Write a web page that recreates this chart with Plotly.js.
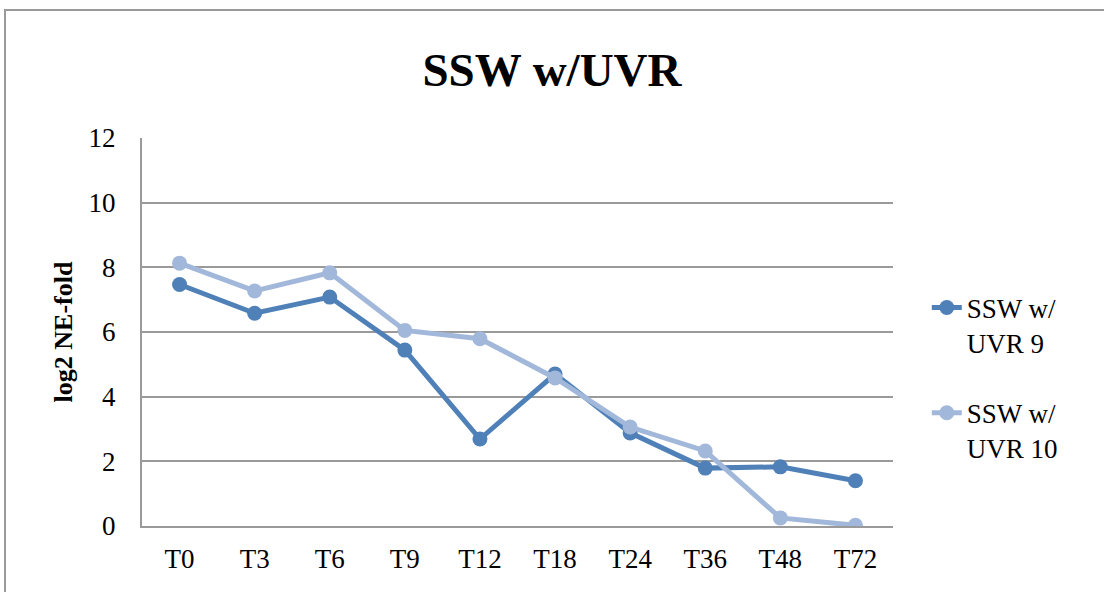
<!DOCTYPE html>
<html>
<head>
<meta charset="utf-8">
<script src="https://cdn.plot.ly/plotly-3.0.1.min.js"></script>
<style>
  html, body { margin:0; padding:0; background:#fff; overflow:hidden; }
  #frame { position:absolute; left:4px; top:9px; width:1200px; height:700px; border-left:2px solid #9a9a9a; border-top:2px solid #9a9a9a; pointer-events:none; }
  #chart { position:absolute; left:0; top:0; width:1104px; height:592px; }
</style>
</head>
<body>
<div id="chart"></div>
<div id="frame"></div>
<script>
const categories = ["T0","T3","T6","T9","T12","T18","T24","T36","T48","T72"];
const uvr9 = [7.47, 6.58, 7.08, 5.44, 2.69, 4.70, 2.88, 1.79, 1.83, 1.40];
const uvr10 = [8.13, 7.27, 7.83, 6.05, 5.79, 4.58, 3.06, 2.32, 0.25, 0.02];
const seriesNames = ["SSW w/<br>UVR 9", "SSW w/<br>UVR 10"];
const yTicks = [0, 2, 4, 6, 8, 10, 12];

const font = "'Liberation Serif', 'DejaVu Serif', serif";

const traces = [
  { x: categories, y: uvr9, name: seriesNames[0], type: 'scatter', mode: 'lines+markers',
    legendgroup: 'a',
    line: { color: '#4F80B8', width: 5 }, marker: { color: '#4F80B8', size: 15 } },
  { x: categories, y: uvr10, name: seriesNames[1], type: 'scatter', mode: 'lines+markers',
    legendgroup: 'b',
    line: { color: '#A2B8DA', width: 5 }, marker: { color: '#A2B8DA', size: 15 } }
];

const layout = {
  width: 1104, height: 592,
  margin: { l: 142, r: 211, t: 138, b: 66 },
  paper_bgcolor: '#fff', plot_bgcolor: '#fff',
  font: { family: font, color: '#000', size: 27 },
  title: { text: '<b>SSW w/UVR</b>', x: 0.5, xanchor: 'center', y: 0.882, yanchor: 'middle',
           font: { family: font, size: 47, color: '#000' } },
  xaxis: { type: 'category', range: [-0.5, 9.5], showgrid: false, zeroline: false,
           showline: true, linecolor: '#9a9a9a', linewidth: 2, ticks: '',
           tickfont: { family: font, size: 27 }, ticklabelstandoff: 8 },
  yaxis: { range: [0, 12], tickvals: yTicks, ticktext: yTicks.map(String),
           showgrid: true, gridcolor: '#9a9a9a', gridwidth: 2, zeroline: false,
           showline: true, linecolor: '#9a9a9a', linewidth: 2, ticks: '',
           tickfont: { family: font, size: 27 }, ticklabelstandoff: 19,
           title: { text: '<b>log2 NE-fold</b>', font: { family: font, size: 26 }, standoff: 8 } },
  legend: { x: 1.045, xanchor: 'left', y: 0.625, yanchor: 'top', valign: 'top',
            font: { family: font, size: 27 }, traceorder: 'grouped', tracegroupgap: 32,
            bgcolor: 'rgba(0,0,0,0)', itemwidth: 30 },
  showlegend: true
};

Plotly.newPlot('chart', traces, layout, { displayModeBar: false, staticPlot: true });
</script>
</body>
</html>
